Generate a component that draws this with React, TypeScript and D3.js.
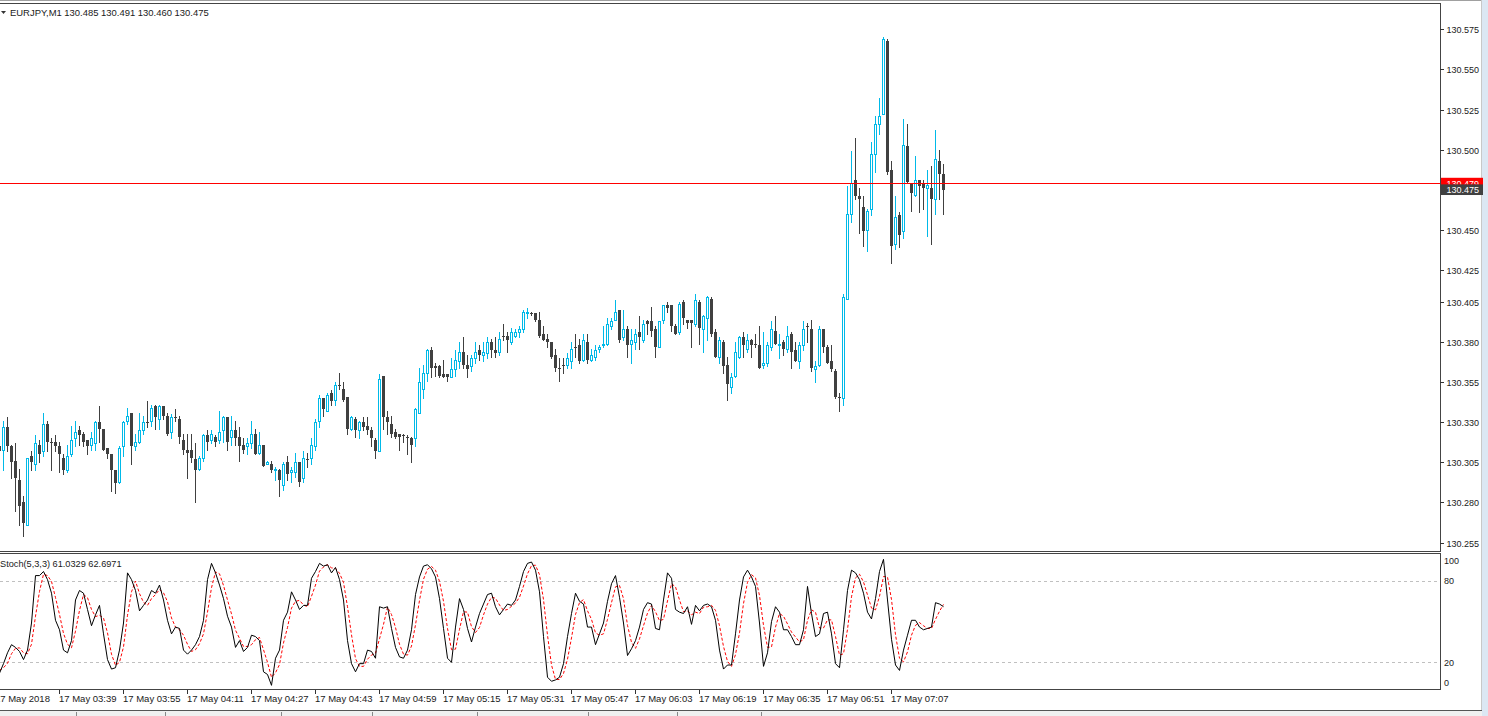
import React from "react";
import * as d3 from "d3";

// ---- data: EURJPY M1, 17 May 2018, one bar per minute, first bar 03:24 ----
const SYMBOL = "EURJPY,M1";
const HEADER_OHLC = ["130.485", "130.491", "130.460", "130.475"];

const openPrices = [
  130.315,130.313,130.327,130.315,130.306,130.294,130.280,130.266,130.309,130.304,
  130.316,130.312,130.329,130.318,130.318,130.315,130.308,130.300,130.310,130.320,
  130.325,130.323,130.319,130.316,130.317,130.330,130.326,130.314,130.310,130.300,
  130.293,130.315,130.331,130.336,130.315,130.318,130.325,130.330,130.331,130.340,
  130.332,130.340,130.334,130.324,130.333,130.332,130.319,130.313,130.313,130.307,
  130.301,130.308,130.322,130.319,130.321,130.319,130.325,130.333,130.321,130.325,
  130.321,130.316,130.315,130.317,130.323,130.311,130.316,130.304,130.304,130.300,
  130.300,130.291,130.305,130.299,130.299,130.305,130.295,130.307,130.308,130.315,
  130.331,130.345,130.337,130.348,130.344,130.353,130.351,130.346,130.326,130.332,
  130.325,130.330,130.328,130.325,130.319,130.312,130.359,130.333,130.329,130.324,
  130.323,130.322,130.321,130.320,130.320,130.336,130.351,130.361,130.375,130.365,
  130.365,130.360,130.360,130.358,130.363,130.368,130.374,130.366,130.365,130.370,
  130.375,130.372,130.373,130.380,130.375,130.374,130.384,130.384,130.380,130.384,
  130.386,130.388,130.398,130.398,130.398,130.394,130.385,130.382,130.380,130.372,
  130.364,130.366,130.366,130.368,130.377,130.378,130.369,130.380,130.369,130.371,
  130.376,130.378,130.379,130.390,130.394,130.400,130.383,130.388,130.379,130.380,
  130.386,130.381,130.393,130.393,130.388,130.377,130.394,130.403,130.403,130.390,
  130.386,130.405,130.394,130.394,130.391,130.405,130.388,130.395,130.407,130.386,
  130.371,130.380,130.366,130.352,130.359,130.371,130.383,130.376,130.381,130.379,
  130.378,130.366,130.367,130.377,130.387,130.378,130.380,130.376,130.385,130.375,
  130.368,130.378,130.390,130.388,130.363,130.366,130.388,130.377,130.368,130.362,
  130.346,130.345,130.407,130.460,130.481,130.471,130.464,130.450,130.463,130.497,
  130.516,130.522,130.568,130.487,130.441,130.459,130.449,130.502,130.479,130.472,
  130.481,130.479,130.476,130.476,130.469,130.493,130.485,
];
const highPrices = [
  130.317,130.331,130.333,130.316,130.317,130.301,130.284,130.308,130.312,130.322,
  130.319,130.336,130.331,130.320,130.322,130.318,130.310,130.316,130.328,130.331,
  130.328,130.324,130.319,130.324,130.331,130.340,130.326,130.314,130.310,130.300,
  130.315,130.331,130.339,130.336,130.323,130.336,130.334,130.343,130.341,130.341,
  130.341,130.340,130.336,130.335,130.338,130.334,130.323,130.323,130.323,130.317,
  130.309,130.323,130.325,130.325,130.322,130.337,130.334,130.333,130.334,130.331,
  130.327,130.320,130.320,130.331,130.326,130.324,130.316,130.306,130.306,130.302,
  130.301,130.305,130.309,130.302,130.311,130.305,130.312,130.311,130.320,130.332,
  130.347,130.345,130.348,130.350,130.355,130.361,130.355,130.346,130.334,130.333,
  130.331,130.333,130.333,130.327,130.320,130.360,130.359,130.337,130.334,130.326,
  130.323,130.323,130.322,130.321,130.339,130.364,130.366,130.376,130.377,130.367,
  130.366,130.369,130.360,130.370,130.375,130.380,130.383,130.372,130.372,130.380,
  130.378,130.380,130.383,130.382,130.383,130.386,130.391,130.386,130.389,130.388,
  130.390,130.400,130.401,130.399,130.398,130.399,130.390,130.385,130.380,130.376,
  130.370,130.370,130.373,130.380,130.385,130.382,130.385,130.385,130.376,130.378,
  130.378,130.390,130.395,130.395,130.406,130.400,130.400,130.390,130.388,130.388,
  130.396,130.394,130.394,130.402,130.390,130.393,130.403,130.405,130.403,130.391,
  130.405,130.406,130.394,130.394,130.410,130.406,130.397,130.409,130.408,130.388,
  130.383,130.381,130.371,130.361,130.380,130.384,130.386,130.385,130.382,130.385,
  130.390,130.386,130.380,130.393,130.396,130.385,130.381,130.390,130.386,130.380,
  130.380,130.393,130.392,130.394,130.368,130.390,130.388,130.378,130.378,130.363,
  130.348,130.410,130.477,130.499,130.507,130.476,130.471,130.463,130.505,130.521,
  130.532,130.570,130.569,130.493,130.471,130.461,130.519,130.516,130.479,130.496,
  130.481,130.481,130.487,130.490,130.512,130.500,130.491,
];
const lowPrices = [
  130.311,130.300,130.312,130.295,130.275,130.266,130.259,130.266,130.300,130.300,
  130.305,130.309,130.312,130.300,130.312,130.299,130.298,130.299,130.309,130.315,
  130.316,130.315,130.310,130.313,130.313,130.318,130.313,130.308,130.287,130.286,
  130.292,130.309,130.329,130.304,130.313,130.317,130.323,130.327,130.328,130.326,
  130.326,130.332,130.322,130.320,130.331,130.317,130.310,130.295,130.305,130.280,
  130.300,130.306,130.313,130.317,130.315,130.317,130.318,130.313,130.316,130.316,
  130.306,130.311,130.310,130.314,130.310,130.310,130.303,130.304,130.299,130.294,
  130.284,130.288,130.294,130.293,130.296,130.290,130.293,130.302,130.304,130.313,
  130.327,130.334,130.337,130.341,130.341,130.351,130.343,130.323,130.325,130.321,
  130.320,130.325,130.323,130.315,130.308,130.312,130.326,130.323,130.321,130.320,
  130.313,130.318,130.310,130.305,130.315,130.336,130.345,130.356,130.358,130.359,
  130.358,130.358,130.356,130.358,130.359,130.364,130.364,130.358,130.362,130.367,
  130.369,130.368,130.370,130.371,130.371,130.372,130.381,130.374,130.379,130.383,
  130.383,130.386,130.395,130.397,130.393,130.383,130.381,130.377,130.370,130.362,
  130.356,130.361,130.364,130.364,130.371,130.367,130.368,130.367,130.368,130.369,
  130.374,130.377,130.378,130.388,130.394,130.380,130.381,130.371,130.367,130.376,
  130.376,130.380,130.385,130.384,130.371,130.377,130.392,130.399,130.387,130.385,
  130.385,130.391,130.389,130.377,130.390,130.379,130.374,130.381,130.384,130.371,
  130.367,130.361,130.344,130.348,130.358,130.370,130.371,130.374,130.371,130.377,
  130.364,130.364,130.365,130.375,130.379,130.370,130.372,130.374,130.364,130.368,
  130.364,130.375,130.380,130.362,130.355,130.365,130.374,130.367,130.362,130.345,
  130.337,130.341,130.407,130.455,130.469,130.448,130.440,130.437,130.459,130.486,
  130.510,130.522,130.485,130.429,130.438,130.439,130.445,130.480,130.462,130.471,
  130.461,130.463,130.446,130.441,130.460,130.469,130.460,
];
const closePrices = [
  130.312,130.327,130.315,130.305,130.295,130.278,130.267,130.308,130.305,130.317,
  130.310,130.329,130.318,130.318,130.315,130.310,130.300,130.309,130.319,130.324,
  130.322,130.318,130.315,130.320,130.330,130.326,130.313,130.310,130.300,130.292,
  130.314,130.330,130.334,130.315,130.318,130.325,130.330,130.330,130.339,130.333,
  130.340,130.334,130.323,130.333,130.333,130.321,130.313,130.311,130.308,130.300,
  130.308,130.322,130.318,130.323,130.318,130.324,130.333,130.318,130.325,130.320,
  130.315,130.313,130.317,130.323,130.310,130.316,130.303,130.305,130.300,130.301,
  130.294,130.304,130.298,130.300,130.305,130.293,130.308,130.307,130.316,130.330,
  130.345,130.338,130.347,130.343,130.353,130.353,130.344,130.326,130.333,130.325,
  130.330,130.327,130.325,130.320,130.312,130.357,130.333,130.330,130.323,130.321,
  130.321,130.322,130.321,130.316,130.338,130.355,130.361,130.375,130.364,130.364,
  130.359,130.358,130.358,130.363,130.369,130.374,130.366,130.363,130.370,130.374,
  130.372,130.374,130.380,130.375,130.373,130.382,130.384,130.381,130.386,130.386,
  130.388,130.399,130.399,130.398,130.394,130.384,130.381,130.380,130.371,130.364,
  130.364,130.366,130.370,130.376,130.377,130.368,130.381,130.369,130.372,130.375,
  130.377,130.379,130.391,130.393,130.399,130.381,130.388,130.378,130.381,130.385,
  130.383,130.391,130.391,130.387,130.377,130.393,130.403,130.401,130.390,130.385,
  130.404,130.395,130.392,130.392,130.406,130.389,130.396,130.408,130.385,130.371,
  130.381,130.365,130.354,130.358,130.374,130.383,130.378,130.381,130.378,130.378,
  130.364,130.367,130.378,130.388,130.379,130.379,130.376,130.384,130.374,130.368,
  130.378,130.388,130.390,130.364,130.365,130.388,130.377,130.367,130.363,130.346,
  130.346,130.408,130.460,130.479,130.471,130.469,130.449,130.462,130.497,130.516,
  130.521,130.569,130.486,130.440,130.458,130.447,130.503,130.480,130.473,130.481,
  130.477,130.476,130.478,130.469,130.494,130.485,130.475,
];

// Stochastic (5,3,3): main (%K) and signal (%D), one value per bar
const stochMain = [
  12,19,27,33,31,28,22,29,49,84, 84,87,81,71,51,44,29,27,36,66,
  73,71,59,47,55,62,41,22,15,16, 29,49,86,81,73,58,62,66,73,71,
  77,66,51,41,46,45,29,26,29,33, 39,51,81,93,86,77,67,54,46,31,
  36,28,31,40,39,36,13,11,3,23, 29,51,57,72,66,59,62,62,82,87,
  93,91,92,86,90,81,66,36,19,13, 19,19,29,28,23,61,60,61,45,31,
  24,23,29,44,70,83,91,92,89,83, 67,45,23,20,46,67,59,45,35,46,
  56,63,70,71,61,55,59,63,62,66, 76,87,93,94,88,72,39,9,6,7,
  9,19,39,56,71,65,63,46,46,33, 41,49,65,78,84,68,49,25,30,36,
  46,59,64,63,45,44,66,86,82,59, 57,56,61,48,62,58,62,63,61,51,
  29,15,18,18,41,66,83,88,83,76, 49,17,27,50,61,57,44,44,39,33,
  33,44,76,56,39,41,56,57,41,19, 16,44,73,88,86,81,71,57,52,67,
  87,96,66,37,18,14,29,40,51,51, 46,44,45,46,64,63,61.0329,
];
const stochSignal = [
  14,16,19.3,26.3,30.3,30.7,27,26.3,33.3,54, 72.3,85,84,79.7,67.7,55.3,41.3,33.3,30.7,43,
  58.3,70,67.7,59,53.7,54.7,52.7,41.7,26,17.7, 20,31.3,54.7,72,80,70.7,64.3,62,67,70,
  73.7,71.3,64.7,52.7,46,44,40,33.3,28,29.3, 33.7,41,57,75,86.7,85.3,76.7,66,55.7,43.7,
  37.7,31.7,31.7,33,36.7,38.3,29.3,20,9,12.3, 18.3,34.3,45.7,60,65,65.7,62.3,61,68.7,77,
  87.3,90.3,92,89.7,89.3,85.7,79,61,40.3,22.7, 17,17,22.3,25.3,26.7,37.3,48,60.7,55.3,45.7,
  33.3,26,25.3,32,47.7,65.7,81.3,88.7,90.7,88, 79.7,65,45,29.3,29.7,44.3,57.3,57,46.3,42,
  45.7,55,63,68,67.3,62.3,58.3,59,61.3,63.7, 68,76.3,85.3,91.3,91.7,84.7,66.3,40,18,7.3,
  7.3,11.7,22.3,38,55.3,64,66.3,58,51.7,41.7, 40,41,51.7,64,75.7,76.7,67,47.3,34.7,30.3,
  37.3,47,56.3,62,57.3,50.7,51.7,65.3,78,75.7, 66,57.3,58,55,57,56,60.7,61,62,58.3,
  47,31.7,20.7,17,25.7,41.7,63.3,79,84.7,82.3, 69.3,47.3,31,31.3,46,56,54,48.3,42.3,38.7,
  35,36.7,51,58.7,57,45.3,45.3,51.3,51.3,39, 25.3,26.3,44.3,68.3,82.3,85,79.3,69.7,60,58.7,
  68.7,83.3,83,66.3,40.3,23,20.3,27.7,40,47.3, 49.3,47,45,45,51.7,57.7,62.6971,
];

const priceTicks = [130.575,130.55,130.525,130.5,130.45,130.425,130.405,130.38,130.355,130.33,130.305,130.28,130.255];
const timeTickLabels = [
  "17 May 2018","17 May 03:39","17 May 03:55","17 May 04:11","17 May 04:27","17 May 04:43","17 May 04:59",
  "17 May 05:15","17 May 05:31","17 May 05:47","17 May 06:03","17 May 06:19","17 May 06:35","17 May 06:51","17 May 07:07",
];
const stochLevels = [80, 20];
const stochAxisLabels = [100, 80, 20, 0];
const askPrice = 130.479;
const bidPrice = 130.475;
const stochTitle = "Stoch(5,3,3) 61.0329 62.6971";

const BULL = "#00B9E8";
const BEAR = "#404040";
const FONT = "'Liberation Sans', Arial, sans-serif";
const TXT = "#1a1a1a";

export default function App() {
  const W = 1488, H = 716;
  const plotRight = 1440;
  const mainTop = 3, mainBottom = 551;
  const stTop = 553.5, stBottom = 689.5;

  const x = d3.scaleLinear().domain([15, 31]).range([59.3, 123.3]);
  const col = (i: number) => Math.floor(x(i));
  const y = d3.scaleLinear().domain([130.255, 130.575]).range([542.6, 29.3]);
  const sy = d3.scaleLinear().domain([0, 100]).range([689.4, 553.9]);

  const idx = d3.range(openPrices.length);
  const tickIdx = d3.range(-1, -1 + 16 * timeTickLabels.length, 16);

  const kLine = d3.line<number>().x((i) => col(i) + 0.5).y((i) => sy(stochMain[i]));
  const dLine = d3.line<number>().x((i) => col(i) + 0.5).y((i) => sy(stochSignal[i]));

  const candles = idx.map((i) => {
    const c = col(i);
    const o = openPrices[i], h = highPrices[i], l = lowPrices[i], cl = closePrices[i];
    const bull = cl > o;
    const color = bull ? BULL : BEAR;
    const yh = Math.round(y(h)), yl = Math.round(y(l));
    const yTop = Math.round(y(Math.max(o, cl))), yBot = Math.round(y(Math.min(o, cl)));
    return (
      <g key={i}>
        <line x1={c + 0.5} x2={c + 0.5} y1={yh} y2={yl + 1} stroke={color} strokeWidth={1} />
        {bull ? (
          <rect x={c - 0.5} y={yTop + 0.5} width={2} height={Math.max(yBot - yTop, 1)} fill="#ffffff" stroke={BULL} strokeWidth={1} />
        ) : (
          <rect x={c - 1} y={yTop} width={3} height={Math.max(yBot - yTop, 1)} fill={BEAR} />
        )}
      </g>
    );
  });

  const yAsk = Math.round(y(askPrice)) + 0.5;
  const yBid = y(bidPrice);

  return (
    <div style={{ position: "absolute", left: 0, top: 0 }}>
      <svg width={W} height={H} style={{ display: "block" }} fontFamily={FONT}>
        <defs>
          <clipPath id="mainClip"><rect x={0} y={mainTop} width={plotRight} height={mainBottom - mainTop} /></clipPath>
          <clipPath id="stClip"><rect x={0} y={stTop} width={plotRight} height={stBottom - stTop} /></clipPath>
          <clipPath id="askClip"><rect x={1441} y={0} width={42} height={yBid - 5.3} /></clipPath>
        </defs>
        <rect x={0} y={0} width={W} height={H} fill="#ffffff" />
        {/* window chrome */}
        <line x1={0} x2={1482} y1={0.5} y2={0.5} stroke="#a0a0a0" />
        <line x1={1481.5} x2={1481.5} y1={0} y2={711} stroke="#c8c8c8" />
        <rect x={1482} y={0} width={6} height={H} fill="#dce7f3" />
        <line x1={0} x2={1482} y1={710.5} y2={710.5} stroke="#555" />
        <rect x={0} y={711} width={1482} height={5} fill="#f0f0f0" />
        {[76, 165, 281, 372, 477, 588, 677, 761].map((t) => (
          <line key={t} x1={t + 0.5} x2={t + 0.5} y1={712} y2={716} stroke="#888" />
        ))}

        {/* panel frames */}
        <g shapeRendering="crispEdges">
          <line x1={0} x2={plotRight + 0.5} y1={mainTop + 0.5} y2={mainTop + 0.5} stroke="#444" />
          <line x1={0} x2={plotRight + 0.5} y1={mainBottom + 0.5} y2={mainBottom + 0.5} stroke="#444" />
          <line x1={plotRight + 0.5} x2={plotRight + 0.5} y1={mainTop} y2={mainBottom + 1} stroke="#444" />
          <line x1={0} x2={plotRight + 0.5} y1={stTop} y2={stTop} stroke="#444" />
          <line x1={0} x2={plotRight + 0.5} y1={stBottom} y2={stBottom} stroke="#444" />
          <line x1={plotRight + 0.5} x2={plotRight + 0.5} y1={stTop} y2={stBottom} stroke="#444" />
        </g>

        <g clipPath="url(#mainClip)" shapeRendering="crispEdges">
          {candles}
          <line x1={0} x2={plotRight} y1={yAsk} y2={yAsk} stroke="#ff0000" strokeWidth={1} />
        </g>

        {/* header */}
        <path d="M1,11 L6,11 L3.5,14 Z" fill="#333" />
        <text x={10} y={16} fontSize={9.45} fill={TXT}>
          {SYMBOL + "  " + HEADER_OHLC.join(" ")}
        </text>

        {/* price axis */}
        <g shapeRendering="crispEdges">
          {priceTicks.map((p) => {
            const yy = Math.round(y(p)) + 0.5;
            return (
              <g key={p}>
                <line x1={plotRight} x2={plotRight + 4} y1={yy} y2={yy} stroke="#333" />
                <text x={1446.5} y={yy + 3.3} fontSize={9} fill={TXT} shapeRendering="auto">{p.toFixed(3)}</text>
              </g>
            );
          })}
        </g>
        {/* ask / bid labels */}
        <rect x={1441} y={y(askPrice) - 5.5} width={42} height={11} fill="#ff0000" />
        <text x={1446.5} y={y(askPrice) + 3.3} fontSize={9} fill="#ffffff" clipPath="url(#askClip)">{askPrice.toFixed(3)}</text>
        <rect x={1441} y={yBid - 5.3} width={42} height={10.6} fill="#404040" />
        <text x={1446.5} y={yBid + 3.3} fontSize={9} fill="#ffffff">{bidPrice.toFixed(3)}</text>

        {/* stochastic panel */}
        <g shapeRendering="crispEdges">
          {stochLevels.map((v) => (
            <line key={v} x1={0} x2={plotRight} y1={Math.round(sy(v)) + 0.5} y2={Math.round(sy(v)) + 0.5} stroke="#c0c0c0" strokeDasharray="3,3" />
          ))}
        </g>
        <g clipPath="url(#stClip)">
          <path d={dLine(idx) || ""} fill="none" stroke="#ff0000" strokeWidth={1} strokeDasharray="3,2" />
          <path d={kLine(idx) || ""} fill="none" stroke="#000000" strokeWidth={1} />
        </g>
        <text x={0} y={566.5} fontSize={9.2} fill={TXT}>{stochTitle}</text>
        {stochAxisLabels.map((v) => {
          let yy = sy(v);
          if (v === 100) yy += 6.5;
          if (v === 0) yy -= 6.5;
          return (
            <text key={v} x={1444} y={yy + 3.3} fontSize={9} fill={TXT}>{v}</text>
          );
        })}

        {/* time axis */}
        <g shapeRendering="crispEdges">
          {tickIdx.map((ti, j) => {
            const xx = col(ti) + 0.5;
            return (
              <g key={ti}>
                <line x1={xx} x2={xx} y1={stBottom} y2={stBottom + 4} stroke="#333" />
                <text x={xx - 0.5} y={701.5} fontSize={9.5} fill={TXT} shapeRendering="auto">{timeTickLabels[j]}</text>
              </g>
            );
          })}
        </g>
      </svg>
    </div>
  );
}
